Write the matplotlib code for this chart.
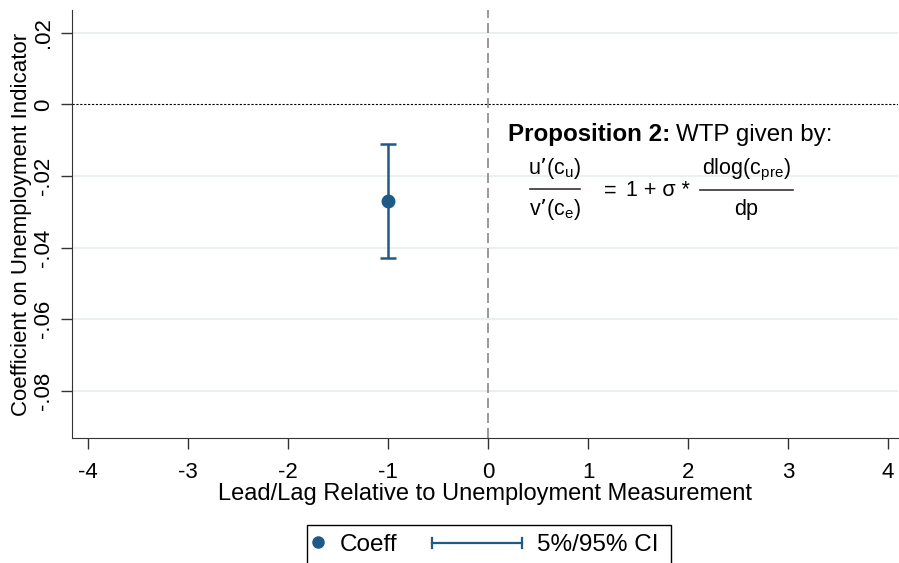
import matplotlib
matplotlib.use("Agg")
import matplotlib.pyplot as plt
from matplotlib.lines import Line2D
from matplotlib.patches import Rectangle

plt.rcParams['font.family'] = ['Liberation Sans', 'DejaVu Sans']

# data
lead_lag = [-1]
coeff = [-0.027]
ci_low = [-0.043]
ci_high = [-0.011]
xticks = [-4, -3, -2, -1, 0, 1, 2, 3, 4]
yticks = [0.02, 0, -0.02, -0.04, -0.06, -0.08]
ytick_labels = ['.02', '0', '-.02', '-.04', '-.06', '-.08']
legend_labels = ['Coeff', '5%/95% CI']

color = '#1f5a87'

fig = plt.figure(figsize=(8.99, 5.63), dpi=100)
ax = fig.add_axes([72/899, 1-438/563, (898-72)/899, (438-10)/563])
ax.set_xlim(-4.16, 4.1)
ax.set_ylim(-0.0932, 0.0264)

for yv in yticks:
    if yv != 0:
        ax.axhline(yv, color='#e6eeee', lw=1.2, zorder=0)
ax.axhline(0, color='black', lw=0.8, ls=(0, (2, 1.5)), zorder=1)
ax.axvline(0, color='#888888', lw=1.2, ls=(0, (6, 3)), zorder=1)

yerr = [[c - l for c, l in zip(coeff, ci_low)], [h - c for c, h in zip(coeff, ci_high)]]
ax.errorbar(lead_lag, coeff, yerr=yerr, fmt='none', ecolor=color, elinewidth=1.8,
            capsize=6, capthick=1.8, zorder=3)
ax.plot(lead_lag, coeff, 'o', color=color, ms=9, zorder=4)

ax.set_xticks(xticks)
ax.set_xticklabels([str(v) for v in xticks], fontsize=16)
ax.set_yticks(yticks)
ax.set_yticklabels(ytick_labels, fontsize=16, rotation=90, va='center')
ax.tick_params(axis='both', direction='out', length=8, width=1, color='#333333')
ax.tick_params(axis='x', pad=9)
ax.tick_params(axis='y', pad=5)
for s in ['top', 'right']:
    ax.spines[s].set_visible(False)
ax.spines['left'].set_color('#333333')
ax.spines['bottom'].set_color('#333333')
ax.set_xlabel('Lead/Lag Relative to Unemployment Measurement', fontsize=17, labelpad=0)
ax.set_ylabel('Coefficient on Unemployment Indicator', fontsize=16, labelpad=1)

# annotation
def fx(px):
    return px / 899
def fy(py):
    return 1 - py / 563

fig.text(fx(508), fy(135), 'Proposition 2:', fontsize=17.4, fontweight='bold', va='center', ha='left')
fig.text(fx(676), fy(135), 'WTP given by:', fontsize=17.4, va='center', ha='left')
fig.text(fx(555), fy(168), r"u’(c$_{\mathregular{u}}$)", fontsize=15.5, va='center', ha='center')
fig.text(fx(555), fy(209), r"v’(c$_{\mathregular{e}}$)", fontsize=15.5, va='center', ha='center')
fig.add_artist(Line2D([fx(530), fx(580)], [fy(189), fy(189)], color='#333333', lw=1.2))
fig.text(fx(610), fy(191), '=', fontsize=15.5, va='center', ha='center')
fig.text(fx(626), fy(191), '1 + σ *', fontsize=15.5, va='center', ha='left')
fig.text(fx(746), fy(170), r"dlog(c$_{\mathregular{pre}}$)", fontsize=15.5, va='center', ha='center')
fig.text(fx(746), fy(210), 'dp', fontsize=15.5, va='center', ha='center')
fig.add_artist(Line2D([fx(700), fx(793)], [fy(190), fy(190)], color='#333333', lw=1.2))

# legend (drawn manually to get Stata-like layout)
fig.add_artist(Rectangle((fx(307), fy(575)), fx(671) - fx(307), fy(525) - fy(575),
                         facecolor='white', edgecolor='black', lw=1.0))
fig.add_artist(Line2D([fx(318)], [fy(542)], marker='o', color=color, ms=8, ls='none'))
fig.text(fx(340), fy(545), legend_labels[0], fontsize=17.5, va='center', ha='left')
fig.add_artist(Line2D([fx(432), fx(522)], [fy(543), fy(543)], color=color, lw=1.6))
fig.add_artist(Line2D([fx(432), fx(432)], [fy(538), fy(548)], color=color, lw=1.6))
fig.add_artist(Line2D([fx(522), fx(522)], [fy(538), fy(548)], color=color, lw=1.6))
fig.text(fx(537), fy(545), legend_labels[1], fontsize=17.5, va='center', ha='left')

fig.savefig('out.png', dpi=100)
